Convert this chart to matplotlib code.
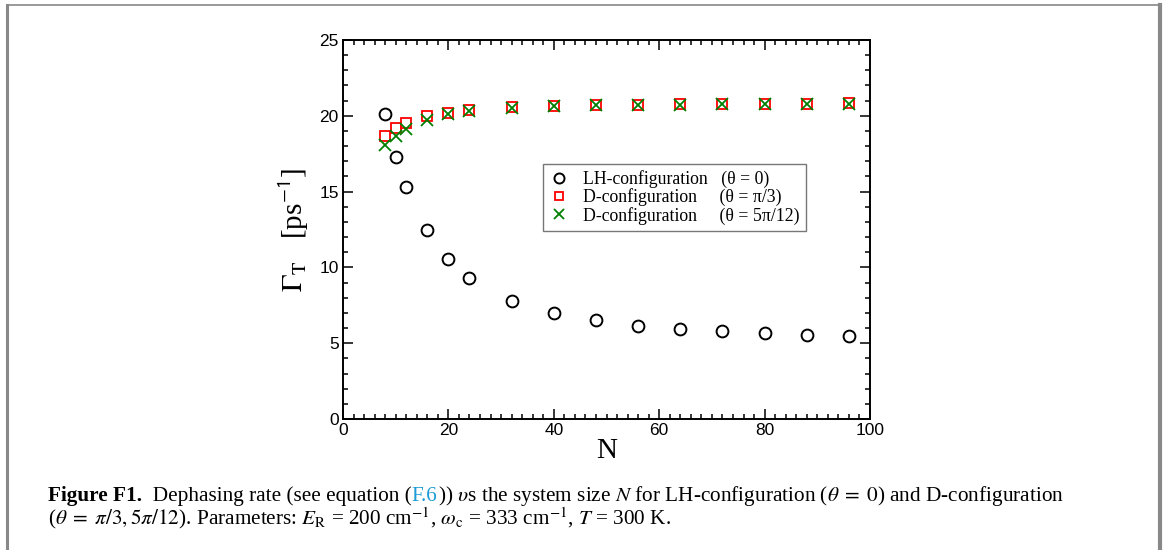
import numpy as np
import matplotlib
matplotlib.use("Agg")
import matplotlib.pyplot as plt
from matplotlib.lines import Line2D
from matplotlib.ticker import MultipleLocator

# system sizes and dephasing rates
N = [8, 10, 12, 16, 20, 24, 32, 40, 48, 56, 64, 72, 80, 88, 96]
gamma_lh = [20.1, 17.3, 15.3, 12.45, 10.55, 9.3, 7.8, 7.0, 6.5, 6.15, 5.95, 5.8, 5.65, 5.55, 5.45]
gamma_d_pi3 = [18.65, 19.2, 19.55, 19.97, 20.2, 20.35, 20.55, 20.65, 20.7, 20.72, 20.75, 20.78, 20.8, 20.8, 20.82]
gamma_d_5pi12 = [18.05, 18.7, 19.15, 19.75, 20.1, 20.3, 20.5, 20.63, 20.68, 20.71, 20.74, 20.77, 20.79, 20.8, 20.81]

labels = ["LH-configuration   (\u03b8 = 0)",
          "D-configuration     (\u03b8 = \u03c0/3)",
          "D-configuration     (\u03b8 = 5\u03c0/12)"]

plt.rcParams['mathtext.fontset'] = 'stix'
SERIF = 'Liberation Serif'
SANS = 'Liberation Sans'

W, H = 1163, 550
fig = plt.figure(figsize=(W / 100, H / 100), dpi=100)
ax = fig.add_axes([343 / W, 1 - 419 / H, (870 - 343) / W, (419 - 40) / H])

ax.plot(N, gamma_lh, 'o', ms=8.5, mfc='none', mec='black', mew=1.4, label=labels[0])
ax.plot(N, gamma_d_pi3, 's', ms=7.5, mfc='none', mec='red', mew=1.3, label=labels[1])
ax.plot(N, gamma_d_5pi12, 'x', ms=8.5, color='green', mew=1.3, label=labels[2])

ax.set_xlim(0, 100)
ax.set_ylim(0, 25)
ax.xaxis.set_major_locator(MultipleLocator(20))
ax.xaxis.set_minor_locator(MultipleLocator(2))
ax.yaxis.set_major_locator(MultipleLocator(5))
ax.yaxis.set_minor_locator(MultipleLocator(1))
ax.tick_params(which='both', direction='in', top=True, right=True, width=1.1)
ax.tick_params(which='major', length=7, labelsize=12.5, pad=3)
ax.tick_params(which='minor', length=3.6)
for lab in ax.get_xticklabels() + ax.get_yticklabels():
    lab.set_family(SANS)
for sp in ax.spines.values():
    sp.set_linewidth(1.4)

ax.set_xlabel("N", family=SERIF, fontsize=21, labelpad=0)
ax.set_ylabel(r"$\Gamma_{\mathrm{T}}$   [ps$^{\mathsf{-1}}$]", family=SERIF, fontsize=21, labelpad=6)

leg = ax.legend(loc='upper left', bbox_to_anchor=((543 - 343) / 527, (419 - 164) / 379),
                prop={'family': SERIF, 'size': 12.8}, frameon=True, fancybox=False,
                edgecolor='#555555', borderpad=0.35, handletextpad=0.8, labelspacing=0.02,
                handlelength=1.1, borderaxespad=0, markerscale=0.85)
leg.get_frame().set_linewidth(1.0)

# page frame around the figure
frame_c = '#888888'
fig.add_artist(Line2D([7 / W, 1159 / W], [1 - 4.5 / H, 1 - 4.5 / H], color=frame_c, lw=1.2))
fig.add_artist(Line2D([7 / W, 7 / W], [0, 1 - 4.5 / H], color=frame_c, lw=2.2))
fig.add_artist(Line2D([1159.5 / W, 1159.5 / W], [0, 1 - 4.5 / H], color=frame_c, lw=3))

# caption, placed piece by piece so the link can be blue
renderer = fig.canvas.get_renderer()
cap_size = 15.3


def put(x, y, s, **kw):
    t = fig.text(x / W, 1 - y / H, s, va='baseline', ha='left',
                 family=SERIF, fontsize=cap_size, **kw)
    bb = t.get_window_extent(renderer)
    return x + bb.width


x = put(48, 501, "Figure F1.", weight='bold')
x = put(x, 501, "  Dephasing rate (see equation (")
x = put(x, 501, "F.6", color='#1a9ad6')
put(x, 501, r")) $\upsilon$s the system size $N$ for LH-configuration ($\theta\;=\;0$) and D-configuration")
put(48, 524, r"($\theta\;=\;\pi/3, 5\pi/12$). Parameters: $E_{\mathrm{R}}$ = 200 cm$^{-1}$, "
             r"$\omega_{\mathrm{c}}$ = 333 cm$^{-1}$, $T$ = 300 K.")

fig.savefig("out.png", dpi=100)
